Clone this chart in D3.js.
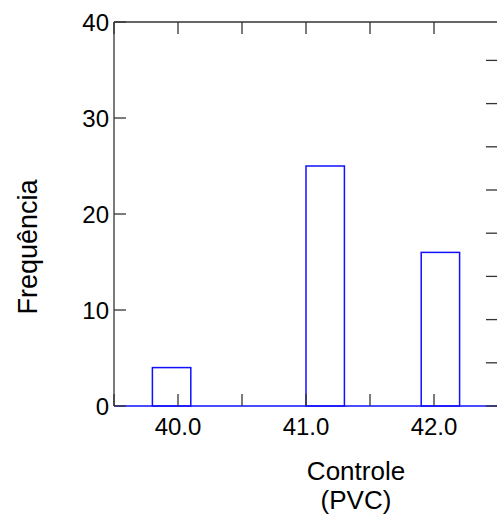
<!DOCTYPE html>
<html>
<head>
<meta charset="utf-8">
<script src="https://cdn.jsdelivr.net/npm/d3@7"></script>
<style>
  body { margin: 0; background: #fff; }
  text { font-family: Arial, "Liberation Sans", sans-serif; fill: #000; }
</style>
</head>
<body>
<div class="canvas"></div>
<script>
// histogram bins (Controle PVC)
const binStart = [39.8, 41.0, 41.9];
const binEnd = [40.1, 41.3, 42.2];
const counts = [4, 25, 16];
const xTicks = [39.5, 40.0, 40.5, 41.0, 41.5, 42.0];
const xLabels = [40.0, 41.0, 42.0];
const yTicks = [0, 10, 20, 30, 40];
const pctTicks = [0, 10, 20, 30, 40, 50, 60, 70, 80];

const dims = { width: 497, height: 524 };
const m = { left: 114, top: 22, right: 498, bottom: 406 };
const total = d3.sum(counts);

const svg = d3.select('.canvas')
    .append('svg')
    .attr('width', dims.width)
    .attr('height', dims.height);

const x = d3.scaleLinear().domain([39.5, 42.5]).range([m.left, m.right]);
const y = d3.scaleLinear().domain([0, 40]).range([m.bottom, m.top]);
// right axis is percent of total (cut off at the right edge)
const yPct = d3.scaleLinear().domain([0, 40 / total * 100]).range([m.bottom, m.top]);

const axisColor = '#333';

// bars
const bars = svg.append('g');
bars.append('line')
    .attr('x1', m.left).attr('x2', dims.width)
    .attr('y1', y(0)).attr('y2', y(0))
    .attr('stroke', '#1010ff').attr('stroke-width', 1.5);
bars.selectAll('rect')
    .data(counts)
    .join('rect')
    .attr('x', (d, i) => x(binStart[i]))
    .attr('width', (d, i) => x(binEnd[i]) - x(binStart[i]))
    .attr('y', d => y(d))
    .attr('height', d => y(0) - y(d))
    .attr('fill', 'none')
    .attr('stroke', '#1010ff')
    .attr('stroke-width', 1.5);

// frame + ticks (inward)
const frame = svg.append('g').attr('stroke', axisColor).attr('stroke-width', 1.3);
frame.append('line').attr('x1', m.left).attr('x2', m.left).attr('y1', m.top).attr('y2', m.bottom);
frame.append('line').attr('x1', m.left).attr('x2', m.right).attr('y1', m.top).attr('y2', m.top);
frame.append('line').attr('x1', m.right).attr('x2', m.right).attr('y1', m.top).attr('y2', m.bottom);

const tl = 12;
frame.selectAll('.tb').data(xTicks).join('line')
    .attr('x1', d => x(d)).attr('x2', d => x(d))
    .attr('y1', m.bottom).attr('y2', m.bottom - tl);
frame.selectAll('.tt').data(xTicks).join('line')
    .attr('x1', d => x(d)).attr('x2', d => x(d))
    .attr('y1', m.top).attr('y2', m.top + tl);
frame.selectAll('.tl').data(yTicks).join('line')
    .attr('x1', m.left).attr('x2', m.left + tl)
    .attr('y1', d => y(d)).attr('y2', d => y(d));
frame.selectAll('.tr').data(pctTicks).join('line')
    .attr('x1', m.right - tl).attr('x2', m.right)
    .attr('y1', d => yPct(d)).attr('y2', d => yPct(d));

// labels
svg.append('g').selectAll('text').data(yTicks).join('text')
    .attr('x', m.left - 5).attr('y', d => y(d))
    .attr('dy', '0.36em')
    .attr('text-anchor', 'end')
    .style('font-size', '24px')
    .text(d => d);

svg.append('g').selectAll('text').data(xLabels).join('text')
    .attr('x', d => x(d)).attr('y', 435)
    .attr('text-anchor', 'middle')
    .style('font-size', '24px')
    .text(d => d.toFixed(1));

svg.append('text')
    .attr('x', 356).attr('y', 480)
    .attr('text-anchor', 'middle')
    .style('font-size', '26px')
    .text('Controle');
svg.append('text')
    .attr('x', 356).attr('y', 509)
    .attr('text-anchor', 'middle')
    .style('font-size', '26px')
    .text('(PVC)');

svg.append('text')
    .attr('transform', 'translate(37,247) rotate(-90)')
    .attr('text-anchor', 'middle')
    .style('font-size', '27px')
    .text('Frequência');
</script>
</body>
</html>
